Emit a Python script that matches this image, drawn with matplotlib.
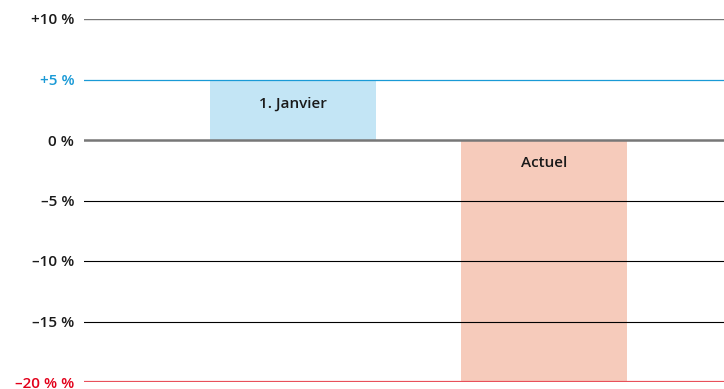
import matplotlib
matplotlib.use("Agg")
import matplotlib.pyplot as plt

categories = ["1. Janvier", "Actuel"]
values = [5, -20]
label_y = [3, -1.9]
bar_colors = ["#c3e5f5", "#f6cbbb"]
tick_values = [10, 5, 0, -5, -10, -15, -20]
tick_labels = ["+10 %", "+5 %", "0 %", "–5 %", "–10 %", "–15 %", "–20 % %"]
tick_colors = ["#1a1a1a", "#1a9ad6", "#1a1a1a", "#1a1a1a", "#1a1a1a", "#1a1a1a", "#e2001a"]
line_colors = ["#777777", "#1a9ad6", "#777777", "#000000", "#000000", "#000000", "#e8505b"]
line_widths = [1.0, 0.9, 1.8, 0.8, 0.8, 0.8, 1.6]

plt.rcParams['font.family'] = ['Open Sans', 'DejaVu Sans']

fig = plt.figure(figsize=(7.24, 3.89), dpi=100)
ax = fig.add_axes([84/724, 1 - 382/389, 640/724, 363/389])

x = list(range(len(categories)))
ax.bar(x, values, width=0.661, color=bar_colors, zorder=1)

for v, c, lw in zip(tick_values, line_colors, line_widths):
    ax.axhline(v, color=c, lw=lw, zorder=2)

for xi, name, ly in zip(x, categories, label_y):
    ax.text(xi, ly, name, ha='center', va='center', fontsize=11, fontweight='semibold', color='#1a1a1a', zorder=3)

ax.set_xlim(-0.833, 1.717)
ax.set_ylim(-20, 10)
ax.set_yticks(tick_values)
ax.set_yticklabels(tick_labels, fontsize=11, fontweight='semibold')
for lab, c in zip(ax.get_yticklabels(), tick_colors):
    lab.set_color(c)
ax.tick_params(axis='y', length=0, pad=7)
ax.set_xticks([])
for s in ax.spines.values():
    s.set_visible(False)

fig.savefig("out.png", dpi=100)
